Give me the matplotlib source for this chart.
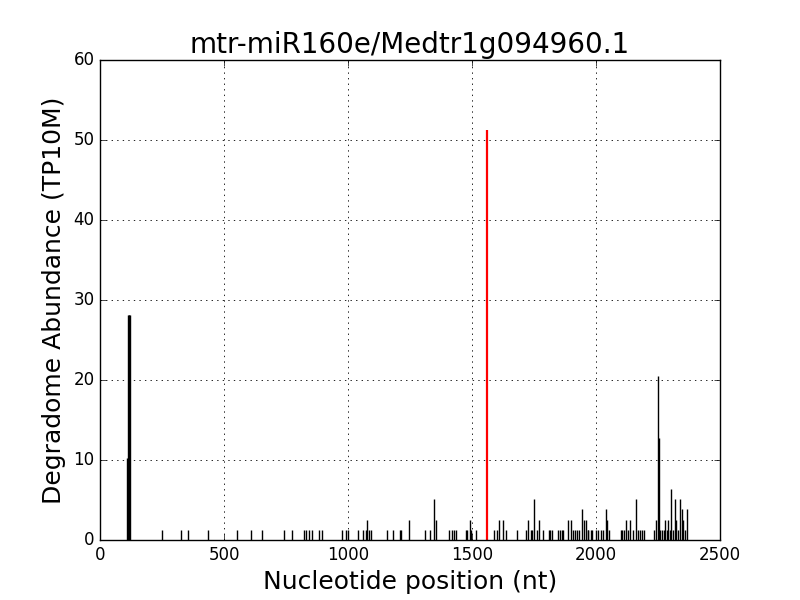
import matplotlib
matplotlib.use("Agg")
import matplotlib.pyplot as plt

plt.style.use("classic")

title = "mtr-miR160e/Medtr1g094960.1"
xlabel = "Nucleotide position (nt)"
ylabel = "Degradome Abundance (TP10M)"

positions = [109, 114, 116, 118, 120,
             249, 328, 353, 437, 551, 610, 654, 743,
             773, 822, 829, 844, 856, 884, 896, 977, 992, 1001, 1039, 1061, 1071,
             1077, 1084, 1094, 1156, 1182, 1211, 1215, 1247, 1310, 1330, 1348, 1353,
             1409, 1418, 1427, 1437, 1474, 1481, 1490, 1497, 1516,
             1590, 1599, 1610, 1626, 1636, 1683, 1719, 1727, 1736, 1743, 1751, 1761, 1770,
             1787, 1810, 1814, 1821, 1848, 1855, 1864, 1868, 1886, 1899,
             1908, 1915, 1925, 1933, 1942, 1951, 1958,
             1966, 1969, 1980, 1985, 2000, 2009, 2019, 2029, 2039, 2045, 2052,
             2099, 2106, 2114, 2121, 2130, 2138, 2148, 2161, 2168, 2179, 2187, 2195,
             2235, 2240, 2251, 2255, 2259, 2267, 2273, 2278, 2285, 2291, 2298,
             2304, 2311, 2319, 2324, 2332, 2339, 2346, 2352, 2359, 2365]
abundance = [10.24, 28.16, 28.16, 28.16, 28.16,
             1.28, 1.28, 1.28, 1.28, 1.28, 1.28, 1.28, 1.28,
             1.28, 1.28, 1.28, 1.28, 1.28, 1.28, 1.28, 1.28, 1.28, 1.28, 1.28, 1.28, 1.28,
             2.56, 1.28, 1.28, 1.28, 1.28, 1.28, 1.28, 2.56, 1.28, 1.28, 5.12, 2.56,
             1.28, 1.28, 1.28, 1.28, 1.28, 1.28, 2.56, 1.28, 1.28,
             1.28, 1.28, 2.56, 2.56, 1.28, 1.28, 1.28, 2.56, 1.28, 1.28, 5.12, 1.28, 2.56,
             1.28, 1.28, 1.28, 1.28, 1.28, 1.28, 1.28, 1.28, 2.56, 2.56,
             1.28, 1.28, 1.28, 1.28, 3.84, 2.56, 2.56,
             1.28, 1.28, 1.28, 1.28, 1.28, 1.28, 1.28, 1.28, 3.84, 2.56, 1.28,
             1.28, 1.28, 1.28, 2.56, 1.28, 2.56, 1.28, 5.12, 1.28, 1.28, 1.28, 1.28,
             1.28, 2.56, 20.48, 12.8, 1.28, 1.28, 1.28, 2.56, 1.28, 2.56, 1.28,
             6.4, 1.28, 5.12, 2.56, 1.28, 5.12, 3.84, 2.56, 1.28, 3.84]

target_position = [1560]
target_abundance = [51.2]

fig = plt.figure(figsize=(8, 6), dpi=100, facecolor="white")
ax = fig.add_axes([0.125, 0.1, 0.775, 0.8])
ax.vlines(positions, 0, abundance, colors="black", linewidth=1.0)
ax.vlines(target_position, 0, target_abundance, colors="red", linewidth=1.6)
ax.set_xlim(0, 2500)
ax.set_ylim(0, 60)
ax.set_xticks([0, 500, 1000, 1500, 2000, 2500])
ax.set_yticks([0, 10, 20, 30, 40, 50, 60])
ax.grid(True, color="black", linestyle=":", linewidth=0.6)
ax.set_title(title, fontsize=20)
ax.set_xlabel(xlabel, fontsize=18)
ax.set_ylabel(ylabel, fontsize=18)
ax.tick_params(labelsize=12)
fig.savefig("out.png", dpi=100, facecolor="white")
